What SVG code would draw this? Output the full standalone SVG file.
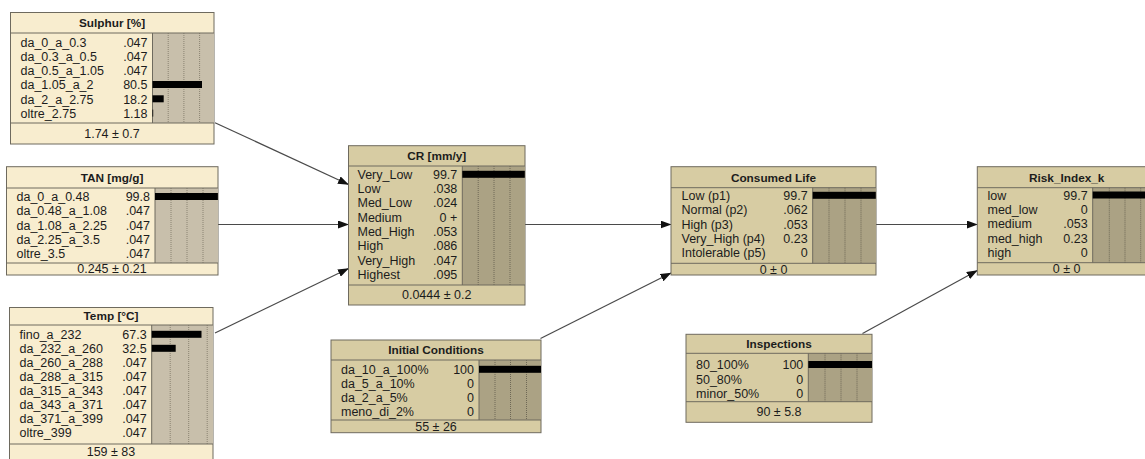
<svg xmlns="http://www.w3.org/2000/svg" width="1145" height="459" viewBox="0 0 1145 459">
<defs>
<marker id="arr" markerWidth="11" markerHeight="8" refX="10.5" refY="4" orient="auto" markerUnits="userSpaceOnUse">
<path d="M0,0 L11,4 L0,8 z" fill="#111"/>
</marker>
</defs>
<style>
text{font-family:"Liberation Sans",Arial,sans-serif;fill:#1c1c1c;font-size:12.5px}
.t{font-weight:bold;font-size:11.8px;text-anchor:middle}
.v{text-anchor:end}
.f{text-anchor:middle}
.cream{fill:#F8EDCF;stroke:#6E6A5E;stroke-width:1}
.tan{fill:#D7CCA3;stroke:#6E6A5E;stroke-width:1}
.bc{fill:#C8BFAB}
.bt{fill:#ABA284}
.sep{stroke:#6E6A5E;stroke-width:1}
.gc{stroke:#8A8372;stroke-width:1;stroke-dasharray:1,1}
.gt{stroke:#6E6856;stroke-width:1;stroke-dasharray:1,1}
.bar{fill:#000}
.e{stroke:#4a4a4a;stroke-width:1.2;fill:none;marker-end:url(#arr)}
</style>
<rect width="1145" height="459" fill="#fff"/>

<g id="connectors">
<line class="e" x1="215" y1="122.7" x2="348.5" y2="184.5"/>
<line class="e" x1="218" y1="224.5" x2="348.5" y2="224.5"/>
<line class="e" x1="215" y1="333" x2="348.5" y2="268.5"/>
<line class="e" x1="525" y1="224.5" x2="671" y2="224.5"/>
<line class="e" x1="540.5" y1="338.5" x2="671" y2="273"/>
<line class="e" x1="876" y1="224.5" x2="977.3" y2="224.5"/>
<line class="e" x1="862.5" y1="333.5" x2="977.3" y2="270.5"/>
</g>

<g id="sulphur">
<rect class="cream" x="10.5" y="12.5" width="203.5" height="131.5"/>
<rect class="bc" x="152.5" y="33" width="61.5" height="90"/>
<line class="gc" x1="168.2" y1="33" x2="168.2" y2="123"/>
<line class="gc" x1="183.9" y1="33" x2="183.9" y2="123"/>
<line class="gc" x1="199.6" y1="33" x2="199.6" y2="123"/>
<line class="sep" x1="152.5" y1="33" x2="152.5" y2="123"/>
<rect class="bar" x="152.5" y="81" width="49.5" height="7"/>
<rect class="bar" x="152.5" y="95.3" width="11.2" height="7"/>
<rect class="bar" x="152.5" y="109.6" width="0.7" height="7"/>
<line class="sep" x1="10.5" y1="33" x2="214" y2="33"/>
<line class="sep" x1="10.5" y1="123" x2="214" y2="123"/>
<text class="t" x="112" y="27">Sulphur [%]</text>
<text x="20.5" y="46.5">da_0_a_0.3</text><text class="v" x="147.5" y="46.5">.047</text>
<text x="20.5" y="60.8">da_0.3_a_0.5</text><text class="v" x="147.5" y="60.8">.047</text>
<text x="20.5" y="75.1">da_0.5_a_1.05</text><text class="v" x="147.5" y="75.1">.047</text>
<text x="20.5" y="89.4">da_1.05_a_2</text><text class="v" x="147.5" y="89.4">80.5</text>
<text x="20.5" y="103.7">da_2_a_2.75</text><text class="v" x="147.5" y="103.7">18.2</text>
<text x="20.5" y="118">oltre_2.75</text><text class="v" x="147.5" y="118">1.18</text>
<text class="f" x="112" y="137.8">1.74 ± 0.7</text>
</g>

<g id="tan">
<rect class="cream" x="6.5" y="166.7" width="211.5" height="108.3"/>
<rect class="bc" x="155" y="188" width="63" height="75"/>
<line class="gc" x1="171" y1="188" x2="171" y2="263"/>
<line class="gc" x1="187" y1="188" x2="187" y2="263"/>
<line class="gc" x1="203" y1="188" x2="203" y2="263"/>
<line class="sep" x1="155" y1="188" x2="155" y2="263"/>
<rect class="bar" x="155" y="193" width="62.9" height="7"/>
<line class="sep" x1="6.5" y1="188" x2="218" y2="188"/>
<line class="sep" x1="6.5" y1="263" x2="218" y2="263"/>
<text class="t" x="112" y="181.5">TAN [mg/g]</text>
<text x="16.5" y="201">da_0_a_0.48</text><text class="v" x="150" y="201">99.8</text>
<text x="16.5" y="215.3">da_0.48_a_1.08</text><text class="v" x="150" y="215.3">.047</text>
<text x="16.5" y="229.6">da_1.08_a_2.25</text><text class="v" x="150" y="229.6">.047</text>
<text x="16.5" y="243.9">da_2.25_a_3.5</text><text class="v" x="150" y="243.9">.047</text>
<text x="16.5" y="258.2">oltre_3.5</text><text class="v" x="150" y="258.2">.047</text>
<text class="f" x="112" y="273.3">0.245 ± 0.21</text>
</g>

<g id="temp">
<rect class="cream" x="9.5" y="307.5" width="203.5" height="160"/>
<rect class="bc" x="151.7" y="325" width="61.3" height="119"/>
<line class="gc" x1="170.2" y1="325" x2="170.2" y2="444"/>
<line class="gc" x1="188.7" y1="325" x2="188.7" y2="444"/>
<line class="gc" x1="207.2" y1="325" x2="207.2" y2="444"/>
<line class="sep" x1="151.7" y1="325" x2="151.7" y2="444"/>
<rect class="bar" x="151.7" y="330.8" width="49.8" height="7"/>
<rect class="bar" x="151.7" y="344.8" width="24" height="7"/>
<line class="sep" x1="9.5" y1="325" x2="213" y2="325"/>
<line class="sep" x1="9.5" y1="444" x2="213" y2="444"/>
<text class="t" x="111" y="320.3">Temp [°C]</text>
<text x="19.5" y="338.8">fino_a_232</text><text class="v" x="146.7" y="338.8">67.3</text>
<text x="19.5" y="352.8">da_232_a_260</text><text class="v" x="146.7" y="352.8">32.5</text>
<text x="19.5" y="366.8">da_260_a_288</text><text class="v" x="146.7" y="366.8">.047</text>
<text x="19.5" y="380.8">da_288_a_315</text><text class="v" x="146.7" y="380.8">.047</text>
<text x="19.5" y="394.8">da_315_a_343</text><text class="v" x="146.7" y="394.8">.047</text>
<text x="19.5" y="408.8">da_343_a_371</text><text class="v" x="146.7" y="408.8">.047</text>
<text x="19.5" y="422.8">da_371_a_399</text><text class="v" x="146.7" y="422.8">.047</text>
<text x="19.5" y="436.8">oltre_399</text><text class="v" x="146.7" y="436.8">.047</text>
<text class="f" x="111" y="455.5">159 ± 83</text>
</g>

<g id="cr">
<rect class="tan" x="348.5" y="145.7" width="176.5" height="159.3"/>
<rect class="bt" x="462.3" y="166" width="62.7" height="119"/>
<line class="gt" x1="478.2" y1="166" x2="478.2" y2="285"/>
<line class="gt" x1="494" y1="166" x2="494" y2="285"/>
<line class="gt" x1="510" y1="166" x2="510" y2="285"/>
<line class="sep" x1="462.3" y1="166" x2="462.3" y2="285"/>
<rect class="bar" x="462.3" y="170.8" width="62.5" height="7"/>
<line class="sep" x1="348.5" y1="166" x2="525" y2="166"/>
<line class="sep" x1="348.5" y1="285" x2="525" y2="285"/>
<text class="t" x="436.7" y="160.2">CR [mm/y]</text>
<text x="357.5" y="178.8">Very_Low</text><text class="v" x="457.3" y="178.8">99.7</text>
<text x="357.5" y="193.1">Low</text><text class="v" x="457.3" y="193.1">.038</text>
<text x="357.5" y="207.4">Med_Low</text><text class="v" x="457.3" y="207.4">.024</text>
<text x="357.5" y="221.7">Medium</text><text class="v" x="457.3" y="221.7">0 +</text>
<text x="357.5" y="236">Med_High</text><text class="v" x="457.3" y="236">.053</text>
<text x="357.5" y="250.3">High</text><text class="v" x="457.3" y="250.3">.086</text>
<text x="357.5" y="264.6">Very_High</text><text class="v" x="457.3" y="264.6">.047</text>
<text x="357.5" y="278.9">Highest</text><text class="v" x="457.3" y="278.9">.095</text>
<text class="f" x="436.7" y="299.3">0.0444 ± 0.2</text>
</g>

<g id="initial_conditions">
<rect class="tan" x="331" y="340" width="210" height="92.7"/>
<rect class="bt" x="479" y="360" width="62" height="60"/>
<line class="gt" x1="495" y1="360" x2="495" y2="420"/>
<line class="gt" x1="510.5" y1="360" x2="510.5" y2="420"/>
<line class="gt" x1="526.5" y1="360" x2="526.5" y2="420"/>
<line class="sep" x1="479" y1="360" x2="479" y2="420"/>
<rect class="bar" x="479" y="365.8" width="62" height="7"/>
<line class="sep" x1="331" y1="360" x2="541" y2="360"/>
<line class="sep" x1="331" y1="420" x2="541" y2="420"/>
<text class="t" x="436" y="354.3">Initial Conditions</text>
<text x="341" y="373.8">da_10_a_100%</text><text class="v" x="474" y="373.8">100</text>
<text x="341" y="387.9">da_5_a_10%</text><text class="v" x="474" y="387.9">0</text>
<text x="341" y="402">da_2_a_5%</text><text class="v" x="474" y="402">0</text>
<text x="341" y="416.1">meno_di_2%</text><text class="v" x="474" y="416.1">0</text>
<text class="f" x="436" y="430.6">55 ± 26</text>
</g>

<g id="consumed_life">
<rect class="tan" x="671" y="166.7" width="205" height="108.3"/>
<rect class="bt" x="812.7" y="187.7" width="63.3" height="75.6"/>
<line class="gt" x1="829" y1="187.7" x2="829" y2="263.3"/>
<line class="gt" x1="845" y1="187.7" x2="845" y2="263.3"/>
<line class="gt" x1="861" y1="187.7" x2="861" y2="263.3"/>
<line class="sep" x1="812.7" y1="187.7" x2="812.7" y2="263.3"/>
<rect class="bar" x="812.7" y="191.8" width="63.1" height="7"/>
<line class="sep" x1="671" y1="187.7" x2="876" y2="187.7"/>
<line class="sep" x1="671" y1="263.3" x2="876" y2="263.3"/>
<text class="t" x="773.5" y="181.5">Consumed Life</text>
<text x="681.5" y="199.8">Low (p1)</text><text class="v" x="807.7" y="199.8">99.7</text>
<text x="681.5" y="214.2">Normal (p2)</text><text class="v" x="807.7" y="214.2">.062</text>
<text x="681.5" y="228.5">High (p3)</text><text class="v" x="807.7" y="228.5">.053</text>
<text x="681.5" y="242.9">Very_High (p4)</text><text class="v" x="807.7" y="242.9">0.23</text>
<text x="681.5" y="257.2">Intolerable (p5)</text><text class="v" x="807.7" y="257.2">0</text>
<text class="f" x="773.5" y="273.5">0 ± 0</text>
</g>

<g id="inspections">
<rect class="tan" x="686" y="334.3" width="186" height="88"/>
<rect class="bt" x="808.3" y="353.3" width="63.7" height="48.4"/>
<line class="gt" x1="825" y1="353.3" x2="825" y2="401.7"/>
<line class="gt" x1="841" y1="353.3" x2="841" y2="401.7"/>
<line class="gt" x1="857" y1="353.3" x2="857" y2="401.7"/>
<line class="sep" x1="808.3" y1="353.3" x2="808.3" y2="401.7"/>
<rect class="bar" x="808.3" y="361" width="63.7" height="7"/>
<line class="sep" x1="686" y1="353.3" x2="872" y2="353.3"/>
<line class="sep" x1="686" y1="401.7" x2="872" y2="401.7"/>
<text class="t" x="779" y="348">Inspections</text>
<text x="696" y="369">80_100%</text><text class="v" x="803.3" y="369">100</text>
<text x="696" y="383.6">50_80%</text><text class="v" x="803.3" y="383.6">0</text>
<text x="696" y="398.2">minor_50%</text><text class="v" x="803.3" y="398.2">0</text>
<text class="f" x="779" y="416.3">90 ± 5.8</text>
</g>

<g id="risk_index_k">
<rect class="tan" x="977.3" y="166.7" width="178.7" height="108.3"/>
<rect class="bt" x="1092.7" y="187.7" width="63.3" height="75"/>
<line class="gt" x1="1109.3" y1="187.7" x2="1109.3" y2="262.7"/>
<line class="gt" x1="1125" y1="187.7" x2="1125" y2="262.7"/>
<line class="gt" x1="1140.7" y1="187.7" x2="1140.7" y2="262.7"/>
<line class="sep" x1="1092.7" y1="187.7" x2="1092.7" y2="262.7"/>
<rect class="bar" x="1092.7" y="191.5" width="63.1" height="7"/>
<line class="sep" x1="977.3" y1="187.7" x2="1156" y2="187.7"/>
<line class="sep" x1="977.3" y1="262.7" x2="1156" y2="262.7"/>
<text class="t" x="1066.7" y="181.5">Risk_Index_k</text>
<text x="987.5" y="199.5">low</text><text class="v" x="1087.7" y="199.5">99.7</text>
<text x="987.5" y="213.9">med_low</text><text class="v" x="1087.7" y="213.9">0</text>
<text x="987.5" y="228.3">medium</text><text class="v" x="1087.7" y="228.3">.053</text>
<text x="987.5" y="242.7">med_high</text><text class="v" x="1087.7" y="242.7">0.23</text>
<text x="987.5" y="257.1">high</text><text class="v" x="1087.7" y="257.1">0</text>
<text class="f" x="1066.7" y="273">0 ± 0</text>
</g>
</svg>
